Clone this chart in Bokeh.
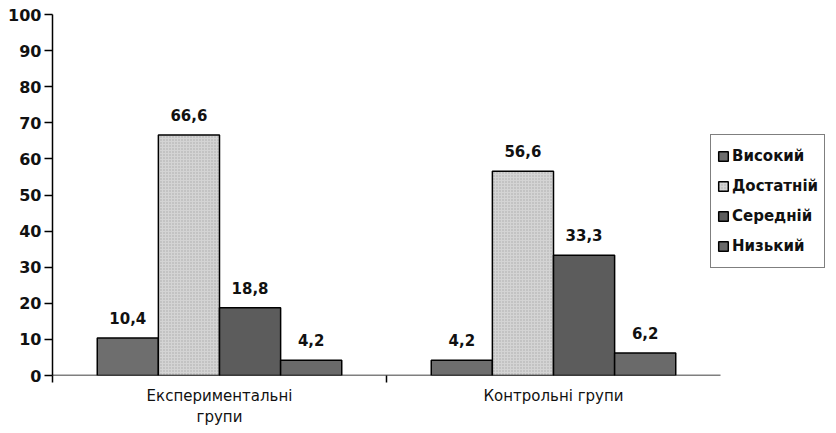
from bokeh.plotting import figure
from bokeh.models import FixedTicker, Legend, LegendItem, ColumnDataSource, LabelSet, Range1d
from bokeh.embed import file_html
from bokeh.resources import INLINE
from bokeh.core.properties import value

groups = ["Експериментальні\nгрупи", "Контрольні групи"]
levels = ["Високий", "Достатній", "Середній", "Низький"]
vysokyi = [10.4, 4.2]
dostatnii = [66.6, 56.6]
serednii = [18.8, 33.3]
nyzkyi = [4.2, 6.2]
y_ticks = list(range(0, 101, 10))

series = [vysokyi, dostatnii, serednii, nyzkyi]
colors = ["#6e6e6e", "#d4d4d4", "#5c5c5c", "#6a6a6a"]

n = len(groups)
group_pos = [i + 0.5 for i in range(n)]
bar_w = 0.183
offsets = [(k - (len(levels) - 1) / 2) * bar_w for k in range(len(levels))]

W, H = 828, 429
left, right, top = 52, 2, 14
frame_w = W - left - right
x_end = n * frame_w / 668.0   # plot area for groups ends before the legend

p = figure(width=W, height=H, output_backend="svg", toolbar_location=None,
           x_range=Range1d(0, x_end), y_range=Range1d(0, 100),
           min_border_left=left, min_border_right=right, min_border_top=top, min_border_bottom=40)
p.outline_line_color = None
p.xgrid.visible = False
p.ygrid.visible = False
p.background_fill_color = "white"

# baseline of the category axis only under the groups
p.segment(x0=[0], y0=[0], x1=[n], y1=[0], line_color="black", line_width=1.5)

items = []
for k, (lvl, vals, col) in enumerate(zip(levels, series, colors)):
    xs = [g + offsets[k] for g in group_pos]
    src = ColumnDataSource(dict(x=xs, top=vals, lab=[f"{v}".replace(".", ",") for v in vals]))
    kw = {}
    if k == 1:
        kw = dict(hatch_pattern="dot", hatch_color="#8a8a8a", hatch_scale=3, hatch_alpha=0.6)
    r = p.vbar(x="x", top="top", width=bar_w, bottom=0, source=src, fill_color=col,
               line_color="black", line_width=1.5, **kw)
    items.append(LegendItem(label=lvl, renderers=[r]))
    p.add_layout(LabelSet(x="x", y="top", text="lab", source=src, text_align="center",
                          text_baseline="bottom", y_offset=14, text_font=value("DejaVu Sans"),
                          text_font_style="bold", text_font_size="15px", text_color="#111111"))

legend = Legend(items=items, location=(658, 107), border_line_color="black", border_line_width=1.5,
                background_fill_color="white", background_fill_alpha=1.0,
                label_text_font="DejaVu Sans", label_text_font_style="bold", label_text_font_size="15px",
                label_text_color="#111111", glyph_width=12, glyph_height=12, label_height=30,
                label_standoff=3, padding=6, spacing=0, margin=0)
p.add_layout(legend, "center")

ya = p.yaxis[0]
ya.ticker = FixedTicker(ticks=y_ticks)
ya.axis_line_width = 1.5
ya.axis_line_color = "black"
ya.major_tick_out = 8
ya.major_tick_in = 0
ya.major_tick_line_width = 1.5
ya.minor_tick_line_color = None
ya.major_label_standoff = 3
ya.major_label_text_font = "DejaVu Sans"
ya.major_label_text_font_style = "bold"
ya.major_label_text_font_size = "16px"
ya.major_label_text_color = "#111111"

xa = p.xaxis[0]
xa.ticker = FixedTicker(ticks=group_pos, minor_ticks=[0.0, 1.0])
xa.major_label_overrides = {g: name for g, name in zip(group_pos, groups)}
xa.axis_line_color = None
xa.major_tick_out = 0
xa.major_tick_in = 0
xa.minor_tick_out = 7
xa.minor_tick_in = 0
xa.minor_tick_line_width = 1.5
xa.minor_tick_line_color = "black"
xa.major_label_standoff = 4
xa.major_label_text_font = "DejaVu Sans"
xa.major_label_text_font_size = "15px"
xa.major_label_text_color = "#111111"

open("out.html", "w").write(file_html(p, INLINE))
